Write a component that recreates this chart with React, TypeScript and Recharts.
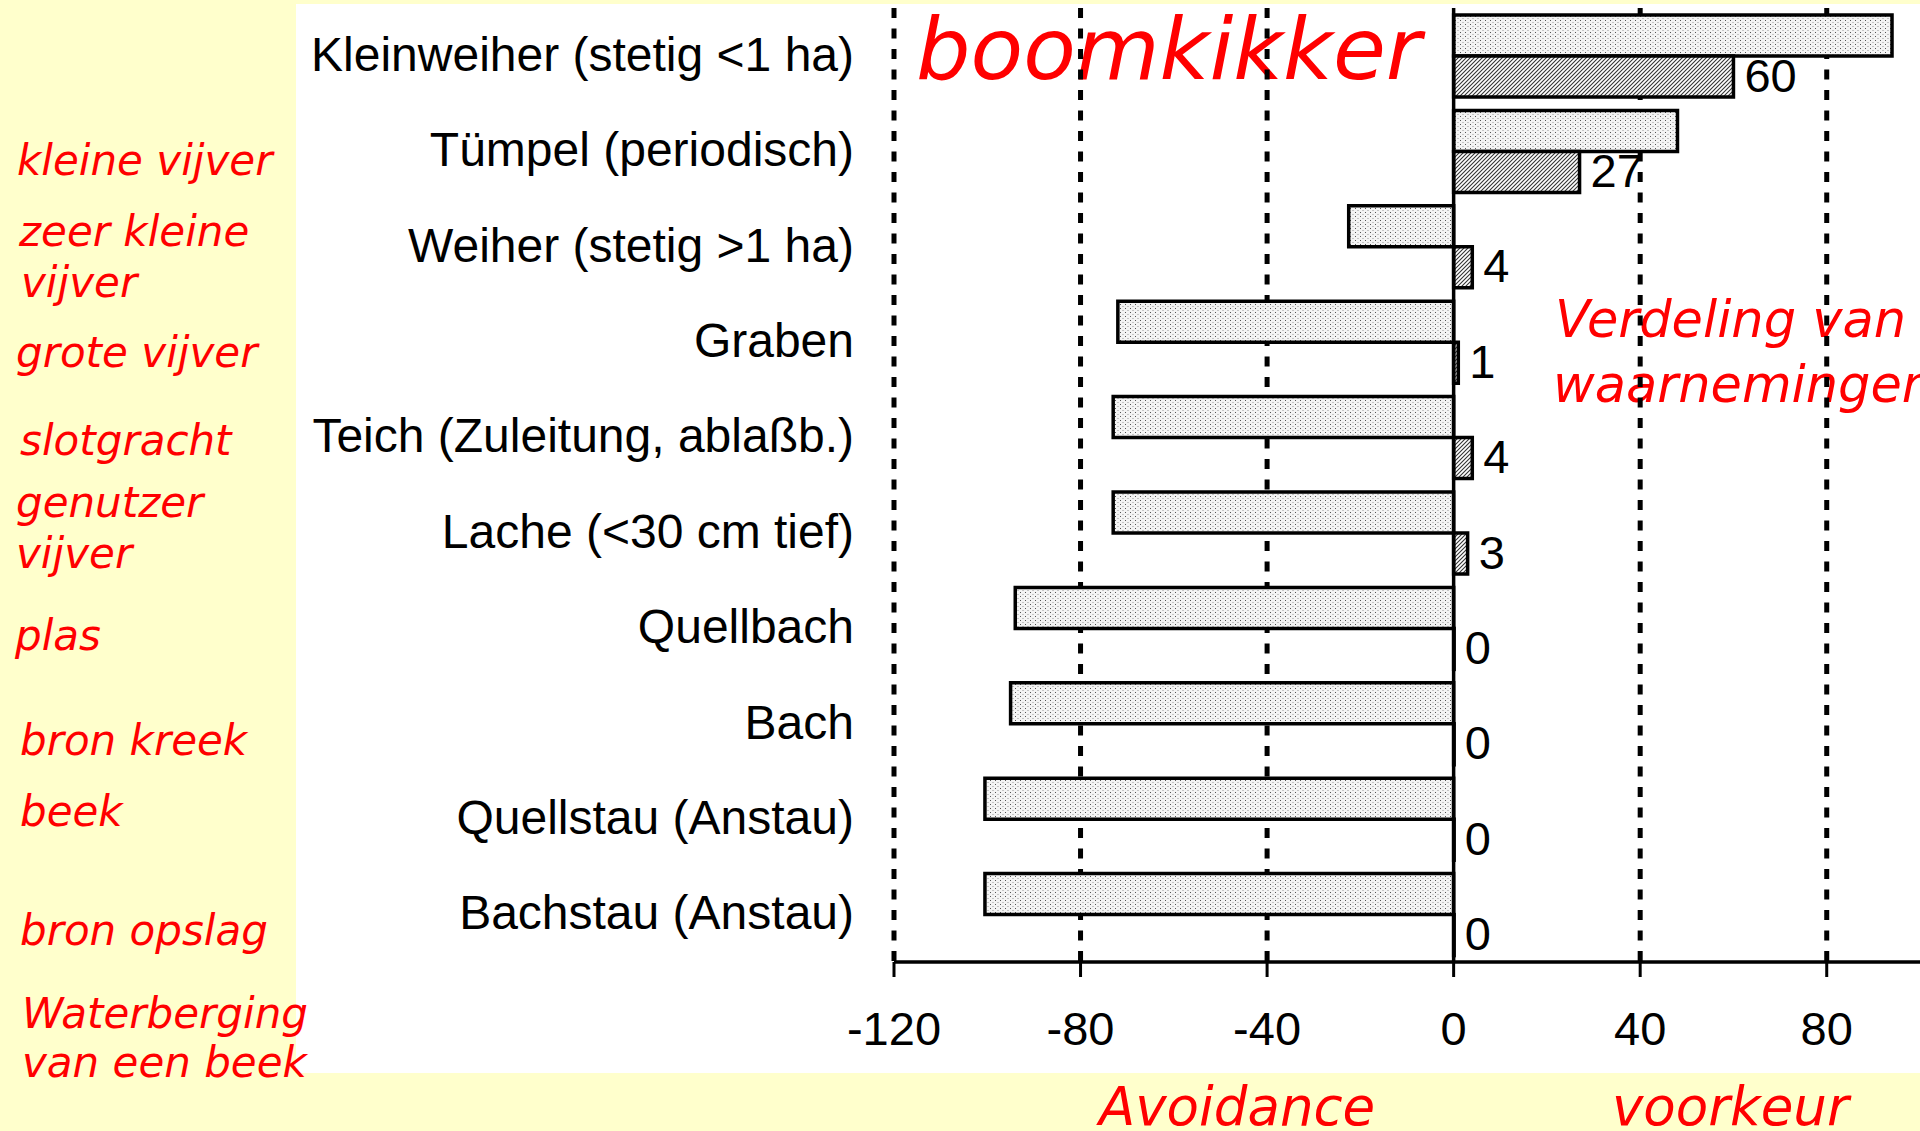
import { BarChart, Bar, XAxis, YAxis, CartesianGrid, ReferenceLine, LabelList } from "recharts";

// habitat types (German, as in the source slide)
const habitats = [
  "Kleinweiher (stetig <1 ha)",
  "Tümpel (periodisch)",
  "Weiher (stetig >1 ha)",
  "Graben",
  "Teich (Zuleitung, ablaßb.)",
  "Lache (<30 cm tief)",
  "Quellbach",
  "Bach",
  "Quellstau (Anstau)",
  "Bachstau (Anstau)",
];

// preference index (dotted bars)
const preference = [94, 48, -22.5, -72, -73, -73, -94, -95, -100.5, -100.5];
// number of observations (hatched bars)
const observations = [60, 27, 4, 1, 4, 3, 0, 0, 0, 0];

const xTicks = [-120, -80, -40, 0, 40, 80];
const gridValues = [-120, -80, -40, 40, 80];

// Dutch translations written in the left margin
const dutchLines = [
  "kleine vijver",
  "zeer kleine",
  "vijver",
  "grote vijver",
  "slotgracht",
  "genutzer",
  "vijver",
  "plas",
  "bron kreek",
  "beek",
  "bron opslag",
  "Waterberging",
  "van een beek",
];
const dutchPos = [
  [17, 175], [19, 246], [21, 297], [16, 367], [20, 455], [16, 517], [16, 568],
  [15, 650], [20, 755], [20, 826], [20, 945], [22, 1028], [22, 1077],
];

const data = habitats.map((name, i) => ({
  name,
  pref: preference[i],
  obs: observations[i],
}));

const SANS = "'Liberation Sans', Arial, sans-serif";
const RED_FONT = "'DejaVu Sans', Verdana, sans-serif";

const CategoryTick = (props: any) => {
  const { x, y, payload } = props;
  return (
    <text x={x} y={y} dy={15} textAnchor="end" fontSize={48} fontFamily={SANS} fill="#000">
      {payload.value}
    </text>
  );
};

const ObsLabel = (props: any) => {
  const { x, y, width, height, value } = props;
  const w = value === 0 ? 0 : width;
  return (
    <text x={x + w + 11} y={y + height / 2} dy={15} fontSize={47} fontFamily={SANS} fill="#000">
      {value}
    </text>
  );
};

export default function App() {
  return (
    <div style={{ position: "absolute", left: 0, top: 0, width: 1920, height: 1131, background: "#FFFFCC", overflow: "hidden" }}>
      <svg width={1920} height={1131} style={{ position: "absolute", left: 0, top: 0 }}>
        <defs>
          <pattern id="dots" patternUnits="userSpaceOnUse" width={5} height={4}>
            <rect width={5} height={4} fill="#f4f4f4" />
            <rect x={0} y={0} width={1} height={1} fill="#555" />
            <rect x={2.5} y={2} width={1} height={1} fill="#999" />
          </pattern>
          <pattern id="hatch" patternUnits="userSpaceOnUse" width={4} height={4}>
            <rect width={4} height={4} fill="#fff" />
            <path d="M-1,1 l2,-2 M0,4 l4,-4 M3,5 l2,-2" stroke="#333" strokeWidth={1.1} />
          </pattern>
        </defs>
        <rect x={296} y={4} width={1624} height={1069} fill="#fff" />
        <g fill="#FF0000" fontStyle="italic" fontFamily={RED_FONT}>
          <text x={916} y={79} fontSize={86}>boomkikker</text>
          <text x={1555} y={337} fontSize={51}>Verdeling van</text>
          <text x={1553} y={402} fontSize={51}>waarnemingen</text>
          <text x={1099} y={1125} fontSize={53}>Avoidance</text>
          <text x={1612} y={1125} fontSize={53}>voorkeur</text>
          {dutchLines.map((t, i) => (
            <text key={i} x={dutchPos[i][0]} y={dutchPos[i][1]} fontSize={42}>{t}</text>
          ))}
        </g>
      </svg>
      <div style={{ position: "absolute", left: 0, top: 0 }}>
        <BarChart
          width={1920}
          height={1131}
          data={data}
          layout="vertical"
          margin={{ top: 8, right: 0, bottom: 69, left: 0 }}
          barCategoryGap={7}
          barGap={0}
        >
          <CartesianGrid
            horizontal={false}
            verticalValues={gridValues}
            stroke="#000"
            strokeWidth={5}
            strokeDasharray="10 10.5"
          />
          <XAxis
            type="number"
            domain={[-120, 100]}
            ticks={xTicks}
            allowDataOverflow
            height={100}
            tickSize={15}
            tickMargin={35}
            axisLine={{ stroke: "#000", strokeWidth: 3.5 }}
            tickLine={{ stroke: "#000", strokeWidth: 3 }}
            tick={{ fill: "#000", fontSize: 47, fontFamily: SANS }}
          />
          <YAxis
            type="category"
            dataKey="name"
            width={894}
            axisLine={false}
            tickLine={false}
            tickSize={0}
            tickMargin={40}
            interval={0}
            tick={<CategoryTick />}
          />
          <Bar dataKey="pref" fill="url(#dots)" stroke="#000" strokeWidth={3.5} isAnimationActive={false} />
          <Bar
            dataKey="obs"
            fill="url(#hatch)"
            stroke="#000"
            strokeWidth={3.5}
            minPointSize={0.5}
            isAnimationActive={false}
          >
            <LabelList dataKey="obs" content={<ObsLabel />} />
          </Bar>
          <ReferenceLine x={0} stroke="#000" strokeWidth={3.5} />
        </BarChart>
      </div>
    </div>
  );
}
